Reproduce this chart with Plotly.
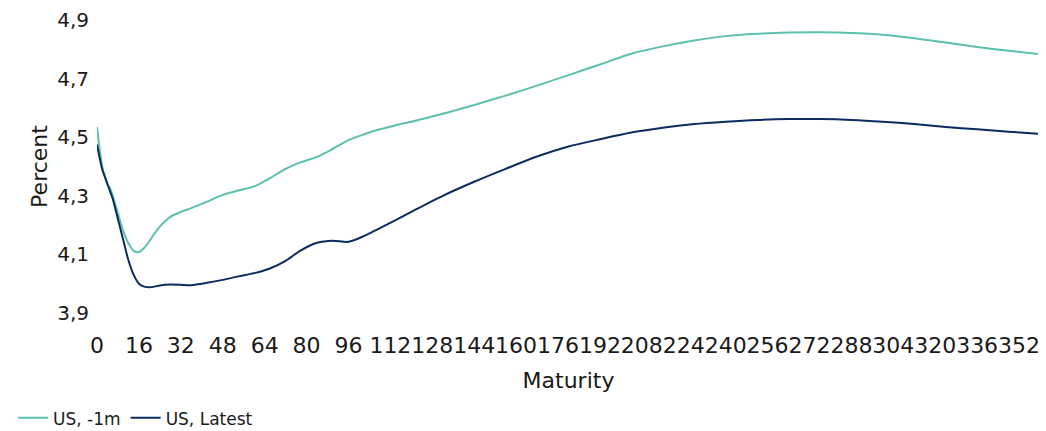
import plotly.graph_objects as go

# Maturity in months
maturity = [0, 1, 2, 3, 4, 5, 6, 8, 10, 12, 14, 16, 18, 20, 22, 24, 28, 32, 36, 42,
            48, 54, 60, 66, 72, 78, 84, 90, 96, 102, 108, 114, 120, 132, 144, 156,
            168, 180, 192, 204, 216, 228, 240, 252, 264, 276, 288, 300, 312, 324,
            336, 348, 360]

us_1m = [4.535, 4.46, 4.40, 4.365, 4.34, 4.325, 4.30, 4.24, 4.18, 4.138, 4.112, 4.108,
         4.122, 4.145, 4.172, 4.195, 4.228, 4.245, 4.258, 4.28, 4.303, 4.318, 4.332,
         4.36, 4.392, 4.415, 4.433, 4.46, 4.49, 4.51, 4.527, 4.541, 4.553, 4.58, 4.61,
         4.642, 4.676, 4.712, 4.748, 4.785, 4.81, 4.83, 4.845, 4.853, 4.857, 4.858,
         4.856, 4.85, 4.838, 4.823, 4.808, 4.795, 4.783]

us_latest = [4.475, 4.43, 4.39, 4.365, 4.34, 4.315, 4.29, 4.22, 4.15, 4.08, 4.03, 4.0,
             3.99, 3.988, 3.99, 3.994, 3.997, 3.996, 3.995, 4.003, 4.013, 4.025, 4.036,
             4.052, 4.078, 4.115, 4.14, 4.147, 4.143, 4.163, 4.19, 4.217, 4.245, 4.30,
             4.348, 4.392, 4.434, 4.468, 4.493, 4.516, 4.532, 4.545, 4.553, 4.559,
             4.562, 4.562, 4.559, 4.553, 4.545, 4.535, 4.527, 4.519, 4.511]

x_ticks = list(range(0, 353, 16))
y_ticks = [3.9, 4.1, 4.3, 4.5, 4.7, 4.9]

FONT = "DejaVu Sans"
TXT = "#1a1a1a"

fig = go.Figure()
fig.add_trace(go.Scatter(x=maturity, y=us_1m, mode="lines", name="US, -1m",
                         line=dict(color="#5cc0ad", width=2, shape="spline", smoothing=0.8)))
fig.add_trace(go.Scatter(x=maturity, y=us_latest, mode="lines", name="US, Latest",
                         line=dict(color="#0b2c5f", width=2, shape="spline", smoothing=0.8)))

# the page body adds an 8px offset, so the figure is sized/margined to compensate
fig.update_layout(
    width=1038, height=423,
    margin=dict(l=89, r=6, t=12, b=118, autoexpand=False),
    paper_bgcolor="white", plot_bgcolor="white",
    separators=", ",
    font=dict(family=FONT, color=TXT, size=18),
    showlegend=True,
    legend=dict(orientation="h", x=-0.089, xanchor="left", y=-0.298, yanchor="top",
                font=dict(size=17, family=FONT, color=TXT), itemwidth=30,
                tracegroupgap=0, bgcolor="rgba(0,0,0,0)"),
    xaxis=dict(range=[0, 360], tickvals=x_ticks, tickangle=0, showgrid=False,
               zeroline=False, showline=False, ticks="", automargin=False,
               tickfont=dict(size=22, family=FONT, color=TXT),
               ticklabelstandoff=17,
               title=dict(text="Maturity", font=dict(size=22, family=FONT, color=TXT),
                          standoff=15)),
    yaxis=dict(range=[3.9, 4.9], tickvals=y_ticks, tickformat=".1f", showgrid=False,
               zeroline=False, showline=False, ticks="", automargin=False,
               tickfont=dict(size=20, family=FONT, color=TXT),
               ticklabelstandoff=7,
               title=dict(text="Percent", font=dict(size=22, family=FONT, color=TXT),
                          standoff=3)),
)

fig.write_html("out.html")
